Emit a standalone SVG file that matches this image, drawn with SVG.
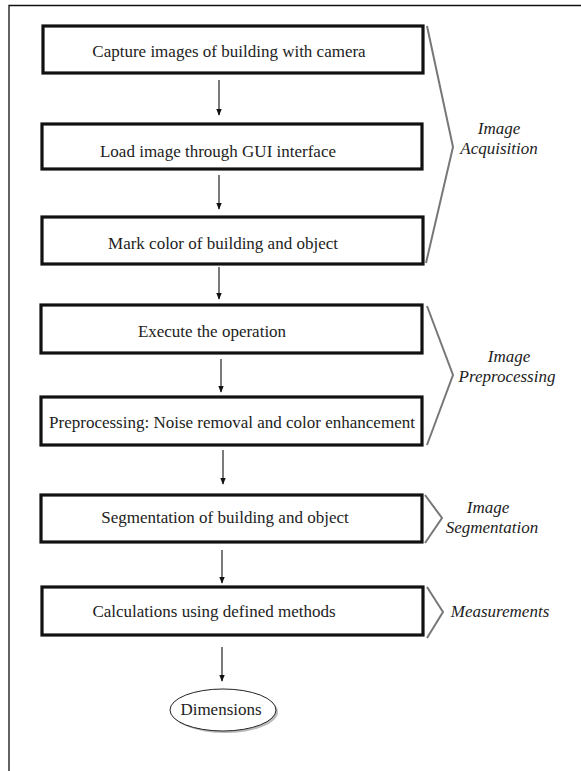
<svg xmlns="http://www.w3.org/2000/svg" width="581" height="771" viewBox="0 0 581 771">
<defs>
<marker id="ah" viewBox="0 0 10 10" refX="9" refY="5" markerWidth="7" markerHeight="7" markerUnits="userSpaceOnUse" orient="auto">
<path d="M0,1 L10,5 L0,9 Z" fill="#111"/>
</marker>
</defs>
<style>
.box{fill:#fff;stroke:#111;stroke-width:3.2}
.t{font-family:"Liberation Serif","Times New Roman",serif;font-size:17px;fill:#222;text-anchor:middle;dominant-baseline:central}
.lab{font-family:"Liberation Serif","Times New Roman",serif;font-size:17px;font-style:italic;fill:#222;text-anchor:middle;dominant-baseline:central}
.conn{stroke:#222;stroke-width:1.2;fill:none}
.br{stroke:#777;stroke-width:2;fill:none}
</style>
<rect width="581" height="771" fill="#fff"/>
<g id="frame">
<path d="M9,771 L9,5.5 L581,5.5" stroke="#111" stroke-width="1.3" fill="none"/>
</g>
<g id="n1"><rect class="box" x="43" y="26" width="380" height="47"/><text class="t" x="229" y="51">Capture images of building with camera</text></g>
<g id="n2"><rect class="box" x="42" y="124" width="380" height="45"/><text class="t" x="218" y="151">Load image through GUI interface</text></g>
<g id="n3"><rect class="box" x="42" y="217" width="381" height="47"/><text class="t" x="223" y="243">Mark color of building and object</text></g>
<g id="n4"><rect class="box" x="41" y="305" width="381" height="48"/><text class="t" x="212" y="331">Execute the operation</text></g>
<g id="n5"><rect class="box" x="41" y="397" width="381" height="48"/><text class="t" x="232" y="422">Preprocessing: Noise removal and color enhancement</text></g>
<g id="n6"><rect class="box" x="41" y="495" width="381" height="47"/><text class="t" x="225" y="517">Segmentation of building and object</text></g>
<g id="n7"><rect class="box" x="42" y="587" width="381" height="48"/><text class="t" x="214" y="611">Calculations using defined methods</text></g>
<g id="n8"><ellipse cx="225" cy="712" rx="53" ry="21" fill="#bbb"/><ellipse cx="223" cy="710" rx="53" ry="21" fill="#fff" stroke="#222" stroke-width="1"/><text class="t" x="221" y="709">Dimensions</text></g>
<g id="connectors">
<line class="conn" x1="219" y1="80" x2="219" y2="115" marker-end="url(#ah)"/>
<line class="conn" x1="219" y1="175" x2="219" y2="209" marker-end="url(#ah)"/>
<line class="conn" x1="219" y1="267" x2="219" y2="299" marker-end="url(#ah)"/>
<line class="conn" x1="221" y1="359" x2="221" y2="392" marker-end="url(#ah)"/>
<line class="conn" x1="223" y1="450" x2="223" y2="484" marker-end="url(#ah)"/>
<line class="conn" x1="222" y1="550" x2="222" y2="583" marker-end="url(#ah)"/>
<line class="conn" x1="222" y1="647" x2="222" y2="681" marker-end="url(#ah)"/>
</g>
<g id="g1"><polyline class="br" points="427,26 453,147 426,263"/><text class="lab" x="499" y="128">Image</text><text class="lab" x="499" y="148">Acquisition</text></g>
<g id="g2"><polyline class="br" points="427,306 453,375 427,445"/><text class="lab" x="509" y="356">Image</text><text class="lab" x="507" y="376">Preprocessing</text></g>
<g id="g3"><polyline class="br" points="425,495 442,518 425,543"/><text class="lab" x="488" y="507">Image</text><text class="lab" x="492" y="527">Segmentation</text></g>
<g id="g4"><polyline class="br" points="427,587 443,612 427,638"/><text class="lab" x="500" y="611">Measurements</text></g>
</svg>
